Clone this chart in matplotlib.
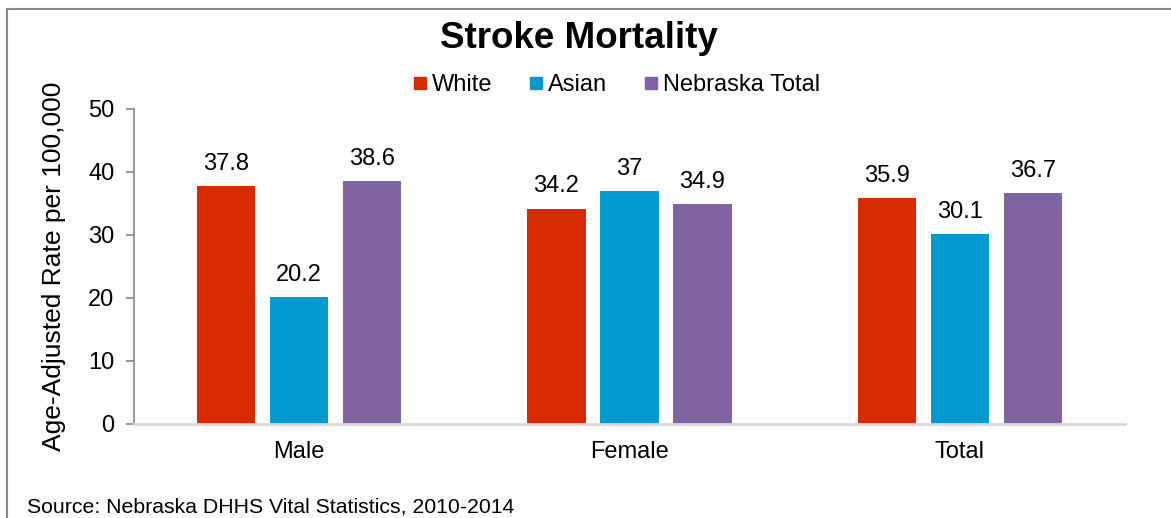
import matplotlib.pyplot as plt
import numpy as np
from matplotlib.patches import Rectangle
from matplotlib.lines import Line2D

plt.rcParams['font.family'] = ['Liberation Sans', 'DejaVu Sans']

groups = ["Male", "Female", "Total"]
series = ["White", "Asian", "Nebraska Total"]
white = [37.8, 34.2, 35.9]
asian = [20.2, 37.0, 30.1]
ne_total = [38.6, 34.9, 36.7]
labels = [["37.8", "34.2", "35.9"], ["20.2", "37", "30.1"], ["38.6", "34.9", "36.7"]]
colors = ["#D62B00", "#009ACD", "#8064A2"]

fig = plt.figure(figsize=(11.71, 5.18), dpi=100)
ax = fig.add_axes([0.1144, 0.1815, 0.8463, 0.6081])

x = np.arange(len(groups))
step = 0.221
width = 0.176
for i, vals in enumerate([white, asian, ne_total]):
    pos = x + (i - 1) * step
    ax.bar(pos, vals, width=width, color=colors[i])
    for p, v, t in zip(pos, vals, labels[i]):
        ax.annotate(t, (p, v), xytext=(0, 8), textcoords="offset points",
                    ha="center", va="bottom", fontsize=17)

ax.set_xlim(-0.5, 2.5)
ax.set_ylim(0, 50)
ax.set_yticks([0, 10, 20, 30, 40, 50])
ax.set_xticks(x)
ax.set_xticklabels(groups)
ax.tick_params(axis="x", length=0, labelsize=17, pad=12)
ax.tick_params(axis="y", length=6, width=1.2, color="#868686", labelsize=17, pad=8)
for s in ["top", "right"]:
    ax.spines[s].set_visible(False)
ax.spines["left"].set_color("#868686")
ax.spines["left"].set_linewidth(1.2)
ax.spines["bottom"].set_color("#D9D9D9")
ax.spines["bottom"].set_linewidth(2)
ax.set_ylabel("Age-Adjusted Rate per 100,000", fontsize=19, labelpad=16)

fig.text(0.494, 1 - 38 / 518, "Stroke Mortality", ha="center", va="center",
         fontsize=26.5, fontweight="bold")

handles = [Line2D([], [], marker="s", linestyle="none", markersize=8.5,
                  markerfacecolor=c, markeredgecolor=c) for c in colors]
fig.legend(handles, series, loc="center", bbox_to_anchor=(0.526, 1 - 85 / 518),
           ncol=3, frameon=False, fontsize=17, handletextpad=0.15,
           columnspacing=1.5, handlelength=0.7)

fig.text(27 / 1171, 1 - 507 / 518, "Source: Nebraska DHHS Vital Statistics, 2010-2014",
         ha="left", va="center", fontsize=15.3)

fig.patches.append(Rectangle((7 / 1171, -0.1), 1.2, 1.1 - 9 / 518,
                             transform=fig.transFigure, fill=False,
                             edgecolor="#888888", linewidth=1.5))

fig.savefig("out.png", dpi=100)
